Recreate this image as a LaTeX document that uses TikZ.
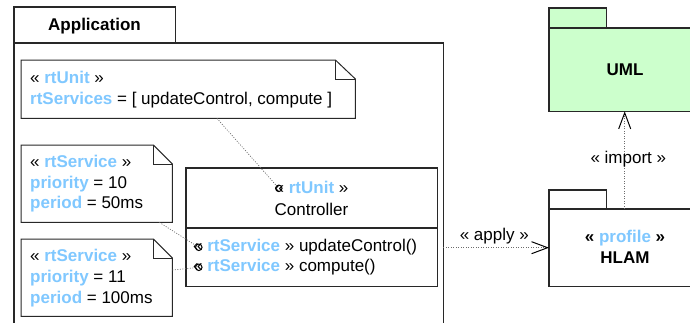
\documentclass[tikz,border=0pt]{standalone}
\usepackage{fontspec}
\setmainfont{Liberation Sans}
\usetikzlibrary{arrows.meta,calc}
\definecolor{stblue}{RGB}{128,200,255}
\definecolor{pkggreen}{RGB}{204,255,204}
\definecolor{edgecol}{RGB}{40,40,40}
\newcommand{\stereo}[1]{\textcolor{stblue}{\bfseries #1}}
\begin{document}
\begin{tikzpicture}[x=1pt,y=-1pt,
  font=\fontsize{17}{20}\selectfont,
  txt/.style={inner sep=0pt, anchor=base west},
  ctxt/.style={inner sep=0pt, anchor=base},
  btxt/.style={inner sep=0pt, anchor=base, font=\fontsize{17}{20}\selectfont\bfseries},
  box/.style={draw=none, inner sep=0pt, anchor=north west},
  outline/.style={draw=edgecol, line width=1.1pt},
  notepath/.style={draw=edgecol, line width=1pt},
  dep/.style={draw=gray!85!black, line width=0.7pt, dash pattern=on 1pt off 1.5pt},
  ring/.style={circle, draw=black, line width=1pt, inner sep=0pt, minimum size=6.5pt},
  opentip/.style={-{Straight Barb[length=16pt,width=12pt,line width=1pt,color=black]}}]
\useasboundingbox (0,0) rectangle (690,322);
\clip (0,0) rectangle (690,322);

% Application package
\node[box, minimum width=161pt, minimum height=36pt] (apptab) at (14,7) {};
\node[box, minimum width=429pt, minimum height=300pt] (app) at (14,43) {};
\draw[outline] (apptab.south west) rectangle (apptab.north east);
\draw[outline] (app.south west) -- (app.north west) -- (app.north east) -- (app.south east);
\node[btxt] (apptitle) at (94.5,30) {Application};

% Note 1
\node[box, minimum width=334pt, minimum height=58pt] (n1) at (21,60) {};
\draw[notepath, fill=white] (n1.north west) -- ([xshift=-20pt]n1.north east) -- ([yshift=-19pt]n1.north east) -- (n1.south east) -- (n1.south west) -- cycle;
\draw[notepath] ([xshift=-20pt]n1.north east) |- ([yshift=-19pt]n1.north east);
\node[txt] (n1a) at (30,83.3) {« \stereo{rtUnit} »};
\node[txt] (n1b) at (30,104) {\stereo{rtServices} = [ updateControl, compute ]};

% Note 2
\node[box, minimum width=151pt, minimum height=77pt] (n2) at (21,145) {};
\draw[notepath, fill=white] (n2.north west) -- ([xshift=-19pt]n2.north east) -- ([yshift=-19pt]n2.north east) -- (n2.south east) -- (n2.south west) -- cycle;
\draw[notepath] ([xshift=-19pt]n2.north east) |- ([yshift=-19pt]n2.north east);
\node[txt] (n2a) at (30,167.3) {« \stereo{rtService} »};
\node[txt] (n2b) at (30,188.3) {\stereo{priority} = 10};
\node[txt] (n2c) at (30,208.3) {\stereo{period} = 50ms};

% Note 3
\node[box, minimum width=151pt, minimum height=77pt] (n3) at (21,239) {};
\draw[notepath, fill=white] (n3.north west) -- ([xshift=-19pt]n3.north east) -- ([yshift=-19pt]n3.north east) -- (n3.south east) -- (n3.south west) -- cycle;
\draw[notepath] ([xshift=-19pt]n3.north east) |- ([yshift=-19pt]n3.north east);
\node[txt] (n3a) at (30,261.7) {« \stereo{rtService} »};
\node[txt] (n3b) at (30,282.7) {\stereo{priority} = 11};
\node[txt] (n3c) at (30,303.3) {\stereo{period} = 100ms};

% Controller class
\node[box, minimum width=251pt, minimum height=118pt] (ctrl) at (186,168) {};
\draw[outline] (ctrl.north west) rectangle (ctrl.south east);
\draw[outline] ($(ctrl.north west)+(0,60)$) -- ($(ctrl.north east)+(0,60)$);
\node[ctxt] (ctrlst) at (311.5,193.3) {« \stereo{rtUnit} »};
\node[ctxt] (ctrlname) at (311.5,215) {Controller};
\node[txt] (op1) at (193,251.7) {« \stereo{rtService} » updateControl()};
\node[txt] (op2) at (193,271.7) {« \stereo{rtService} » compute()};

% attachment rings
\node[ring] (ring0) at (278.8,188.3) {};
\node[ring] (ring1) at (198.8,247.3) {};
\node[ring] (ring2) at (198.8,267.3) {};

% note links
\draw[dep] ($(n1.south west)!0.586!(n1.south east)$) -- (ring0);
\draw[dep] ($(n2.south west)!0.914!(n2.south east)$) -- (ring1);
\draw[dep] ($(n3.north east)!0.40!(n3.south east)$) -- (ring2);

% UML package
\node[box, minimum width=57pt, minimum height=20pt] (umltab) at (549,8) {};
\node[box, minimum width=151pt, minimum height=83pt] (uml) at (549,28) {};
\draw[outline, fill=pkggreen] (umltab.south west) rectangle (umltab.north east);
\draw[outline, fill=pkggreen] (uml.south west) rectangle (uml.north east);
\node[btxt] (umlname) at (625,75) {UML};

% HLAM package
\node[box, minimum width=57pt, minimum height=19pt] (hlamtab) at (549,190) {};
\node[box, minimum width=151pt, minimum height=77pt] (hlam) at (549,209) {};
\draw[outline, fill=white] (hlamtab.south west) rectangle (hlamtab.north east);
\draw[outline, fill=white] (hlam.south west) rectangle (hlam.north east);
\node[btxt] (hlamst) at (625,242.7) {« \stereo{profile} »};
\node[btxt] (hlamname) at (625,263.3) {HLAM};

% dependencies
\draw[dep, opentip] (app.east |- hlam.west) -- (hlam.west);
\node[ctxt] (applylbl) at (494.3,240) {« apply »};
\draw[dep, opentip] (hlam.north) -- (uml.south);
\node[ctxt] (importlbl) at (628.3,163.3) {« import »};
\end{tikzpicture}
\end{document}
